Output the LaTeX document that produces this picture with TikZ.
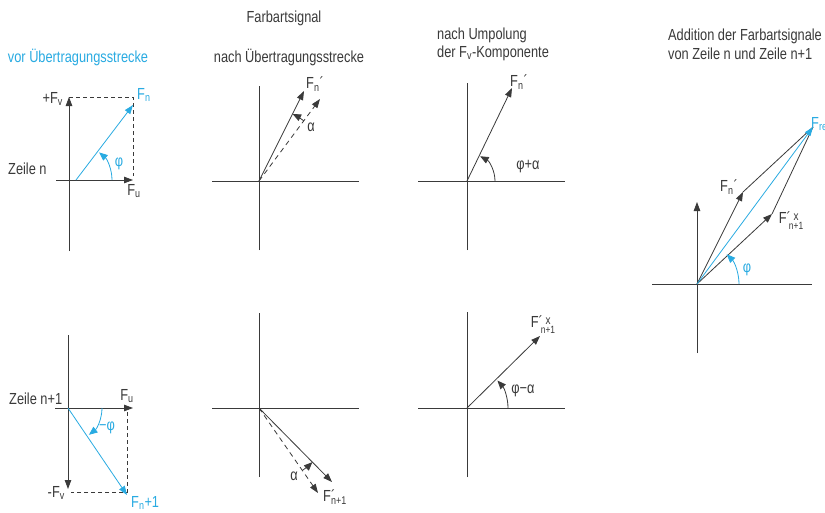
\documentclass[tikz,border=0pt]{standalone}
\usepackage{fontspec}
\setmainfont[FakeStretch=0.8]{Liberation Sans}
\usetikzlibrary{arrows.meta}
\definecolor{fblue}{HTML}{29ABE2}
\definecolor{axisc}{HTML}{3A3A3A}
\newcommand\Fsub[1]{F\textsubscript{#1}}
\newcommand\Fnp{F\textsubscript{n}´}
\newcommand\Fpn{F\makebox[0pt][l]{´}\textsubscript{n+1}}
\newcommand\Fpnx{F´\kern-2pt\raisebox{-0.7ex}{\shortstack{\fontsize{12.5}{12}\selectfont x\\[-1pt]\fontsize{10.5}{10}\selectfont n+1}}}
\begin{document}
\begin{tikzpicture}[x=1pt,y=1pt,
  ln/.style={line width=0.8pt, draw=axisc},
  tip/.style={-{Triangle[length=9pt,width=6.5pt]}},
  stip/.style={-{Triangle[length=8.5pt,width=7pt]}},
  bl/.style={line width=0.8pt, draw=fblue},
  dsh/.style={ln, dash pattern=on 4pt off 3pt},
  dvec/.style={ln, dash pattern=on 5pt off 4pt},
  lab/.style={inner sep=0pt, font=\fontsize{16}{17}\selectfont, text=axisc},
  blab/.style={lab, text=fblue},
  ttl/.style={lab, align=left}]
\useasboundingbox[fill=white] (0,0) rectangle (825,-512);

% ---------- Panel A: top left ----------
\coordinate (a-b) at (69,-251); \coordinate (a-t) at (69,-97);
\coordinate (a-l) at (56,-180); \coordinate (a-r) at (133,-180);
\coordinate (a-o) at (76,-180); \coordinate (a-fn) at (133,-105);
\coordinate (a-c) at (133,-97); \coordinate (a-a) at (112,-180);
\coordinate (a-d) at (133,-176);
\draw[ln,tip] (a-b) -- (a-t);
\draw[ln,tip] (a-l) -- (a-r);
\draw[dsh] (a-t) -- (a-c) -- (a-d);
\draw[bl,tip] (a-o) -- (a-fn);
\draw[bl,stip] (a-a) arc[start angle=0,end angle=50,radius=36];
\node[blab] (a-title) at (78,-57) {vor Übertragungsstrecke};
\node[lab,anchor=east] (a-fv) at (63,-99) {+\Fsub{v}};
\node[blab,anchor=west] (a-fnl) at (137,-95) {\Fsub{n}};
\node[lab,anchor=west] (a-zl) at (8,-169) {Zeile n};
\node[lab] (a-fu) at (134,-191) {\Fsub{u}};
\node[blab] (a-phi) at (119,-164) {φ};

% ---------- Panel B: top middle ----------
\coordinate (b-b) at (259,-250); \coordinate (b-t) at (259,-86);
\coordinate (b-l) at (212,-181); \coordinate (b-r) at (359,-181);
\coordinate (b-o) at (259,-181); \coordinate (b-s) at (304,-91);
\coordinate (b-d) at (320,-99);
\draw[ln] (b-b) -- (b-t);
\draw[ln] (b-l) -- (b-r);
\draw[ln,tip] (b-o) -- (b-s);
\draw[dvec,tip] (b-o) -- (b-d);
\draw[ln,stip] (b-o) ++(53.4:75) arc[start angle=53.4,end angle=63.4,radius=75];
\node[lab] (b-title1) at (284,-18) {Farbartsignal};
\node[lab] (b-title2) at (289,-57) {nach Übertragungsstrecke};
\node[lab] (b-fn) at (315,-84) {\Fnp};
\node[lab] (b-al) at (311,-127) {α};

% ---------- Panel C: top right-middle ----------
\coordinate (c-b) at (467,-250); \coordinate (c-t) at (467,-83);
\coordinate (c-l) at (418,-181); \coordinate (c-r) at (565,-181);
\coordinate (c-o) at (467,-181); \coordinate (c-v) at (512,-88);
\coordinate (c-a) at (495,-181);
\draw[ln] (c-b) -- (c-t);
\draw[ln] (c-l) -- (c-r);
\draw[ln,tip] (c-o) -- (c-v);
\draw[ln,stip] (c-a) arc[start angle=0,end angle=62,radius=28];
\node[ttl,anchor=west] (c-title1) at (437,-35) {nach Umpolung};
\node[ttl,anchor=west] (c-title2) at (437,-53) {der \Fsub{v}-Komponente};
\node[lab] (c-fn) at (519,-82) {\Fnp};
\node[lab] (c-ang) at (528,-167) {φ+α};

% ---------- Panel D: right ----------
\coordinate (d-b) at (697,-353); \coordinate (d-t) at (697,-202);
\coordinate (d-l) at (652,-284); \coordinate (d-r) at (812,-284);
\coordinate (d-o) at (697,-284); \coordinate (d-res) at (813,-127);
\coordinate (d-fn) at (743,-192); \coordinate (d-f1) at (772,-214);
\coordinate (d-a) at (739,-284);
\draw[ln,tip] (d-b) -- (d-t);
\draw[ln] (d-l) -- (d-r);
\draw[ln,tip] (d-o) -- (d-fn);
\draw[ln] (d-fn) -- (d-res);
\draw[ln,tip] (d-o) -- (d-f1);
\draw[ln] (d-f1) -- (d-res);
\draw[bl,tip] (d-o) -- (d-res);
\draw[bl,stip] (d-a) arc[start angle=0,end angle=45,radius=42];
\node[ttl,anchor=west] (d-title1) at (668,-36) {Addition der Farbartsignale};
\node[ttl,anchor=west] (d-title2) at (668,-54) {von Zeile n und Zeile n+1};
\node[blab,anchor=west] (d-resl) at (811,-124) {\Fsub{res}};
\node[lab] (d-fnl) at (729,-187) {\Fnp};
\node[lab] (d-f1l) at (791,-221) {\Fpnx};
\node[blab] (d-phi) at (747,-270) {φ};

% ---------- Panel E: bottom left ----------
\coordinate (e-t) at (68,-335); \coordinate (e-b) at (68,-489);
\coordinate (e-l) at (55,-408); \coordinate (e-r) at (133,-408);
\coordinate (e-o) at (68,-408); \coordinate (e-v) at (127,-495);
\coordinate (e-d1) at (127,-412); \coordinate (e-c) at (127,-492);
\coordinate (e-d2) at (71,-492); \coordinate (e-a) at (102,-408);
\draw[ln,tip] (e-t) -- (e-b);
\draw[ln,tip] (e-l) -- (e-r);
\draw[dsh] (e-d1) -- (e-c) -- (e-d2);
\draw[bl,tip] (e-o) -- (e-v);
\draw[bl,stip] (e-a) arc[start angle=0,end angle=-52,radius=34];
\node[lab,anchor=west] (e-zl) at (9,-399) {Zeile n+1};
\node[lab] (e-fu) at (127,-396) {\Fsub{u}};
\node[lab,anchor=east] (e-fv) at (65,-493) {-\Fsub{v}};
\node[blab,anchor=west] (e-fn) at (131,-503) {\Fsub{n}+1};
\node[blab] (e-phi) at (107,-428) {−φ};

% ---------- Panel F: bottom middle ----------
\coordinate (f-b) at (259,-477); \coordinate (f-t) at (259,-313);
\coordinate (f-l) at (212,-408); \coordinate (f-r) at (359,-408);
\coordinate (f-o) at (259,-408); \coordinate (f-s) at (332,-482);
\coordinate (f-d) at (318,-493);
\draw[ln] (f-b) -- (f-t);
\draw[ln] (f-l) -- (f-r);
\draw[ln,tip] (f-o) -- (f-s);
\draw[dvec,tip] (f-o) -- (f-d);
\draw[ln,stip] (f-o) ++(-55.2:76) arc[start angle=-55.2,end angle=-45.4,radius=76];
\node[lab] (f-al) at (294,-476) {α};
\node[lab] (f-fl) at (335,-497) {\Fpn};

% ---------- Panel G: bottom right-middle ----------
\coordinate (g-b) at (467,-477); \coordinate (g-t) at (467,-312);
\coordinate (g-l) at (418,-408); \coordinate (g-r) at (565,-408);
\coordinate (g-o) at (467,-408); \coordinate (g-v) at (540,-336);
\coordinate (g-a) at (508,-408);
\draw[ln] (g-b) -- (g-t);
\draw[ln] (g-l) -- (g-r);
\draw[ln,tip] (g-o) -- (g-v);
\draw[ln,stip] (g-a) arc[start angle=0,end angle=42,radius=41];
\node[lab] (g-ang) at (523,-391) {φ−α};
\node[lab] (g-fl) at (543,-325) {\Fpnx};
\end{tikzpicture}
\end{document}
